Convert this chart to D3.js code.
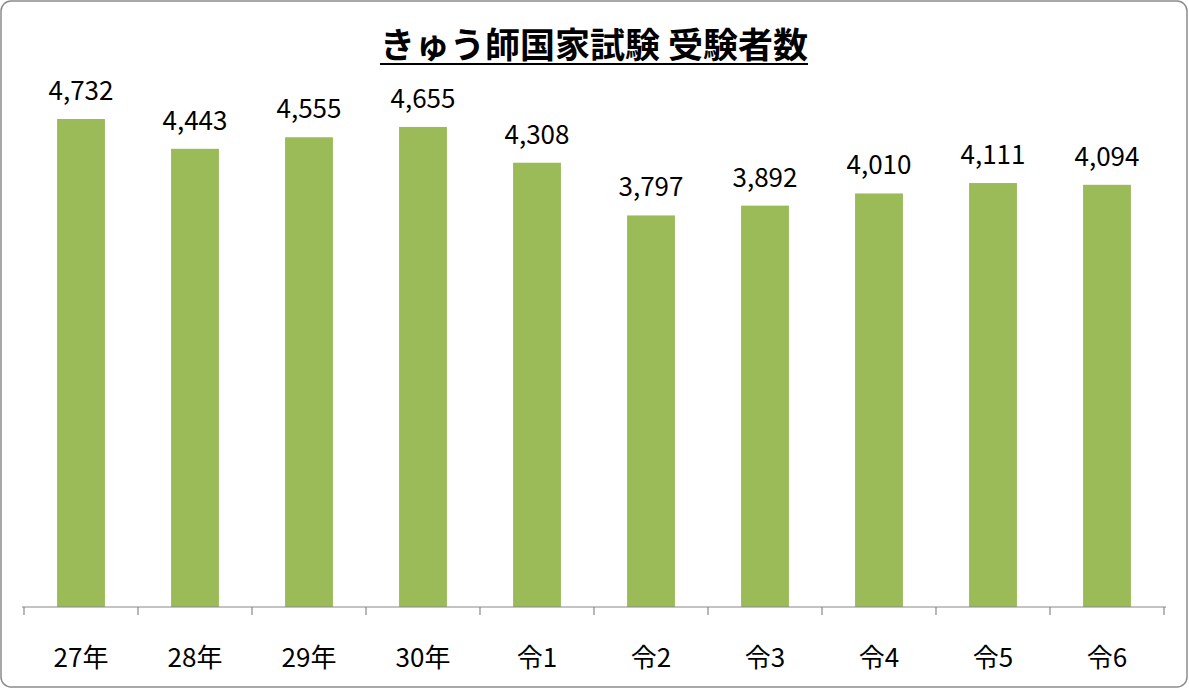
<!DOCTYPE html>
<html><head><meta charset="utf-8">
<script src="https://cdn.jsdelivr.net/npm/d3@7"></script>
<style>body{margin:0;background:#fff}</style>
</head><body>
<svg id="c" width="1189" height="689"></svg>
<script>
const categories = ["27年","28年","29年","30年","令1","令2","令3","令4","令5","令6"];
const values = [4732,4443,4555,4655,4308,3797,3892,4010,4111,4094];
const title = "きゅう師国家試験 受験者数";

const svg = d3.select("#c");
const font = "'Noto Sans CJK JP','Noto Sans',sans-serif";
svg.append("rect").attr("x",1).attr("y",1).attr("width",1186).attr("height",686)
  .attr("rx",10).attr("fill","#fff").attr("stroke","#8c8c8c").attr("stroke-width",1.5);

const x = d3.scaleBand().domain(categories).range([24,1164]).paddingInner(0.58).paddingOuter(0.29);
const y = d3.scaleLinear().domain([0,4732]).range([607,119]);

const t = svg.append("text").attr("x",594).attr("y",58).attr("text-anchor","middle")
  .attr("font-family",font).attr("font-weight","bold").attr("font-size",35).text(title);
const bb = t.node().getBBox();
svg.append("line").attr("x1",bb.x).attr("x2",bb.x+bb.width).attr("y1",64).attr("y2",64)
  .attr("stroke","#000").attr("stroke-width",2);

svg.selectAll(".bar").data(values).join("rect")
  .attr("x",(d,i)=>x(categories[i])).attr("width",x.bandwidth())
  .attr("y",d=>y(d)).attr("height",d=>y(0)-y(d)).attr("fill","#9BBB59");

svg.selectAll(".lbl").data(values).join("text")
  .attr("x",(d,i)=>x(categories[i])+x.bandwidth()/2).attr("y",d=>y(d)-19)
  .attr("text-anchor","middle").attr("font-family",font).attr("font-size",26)
  .text(d=>d3.format(",")(d));

const axis = d3.axisBottom(x).tickSize(0).tickPadding(0);
const g = svg.append("g").attr("transform","translate(0,607)");
g.append("line").attr("x1",22).attr("x2",1166).attr("stroke","#888").attr("stroke-width",1.2);
d3.range(categories.length+1).forEach(i=>{
  const xx = 24 + i*x.step();
  g.append("line").attr("x1",xx).attr("x2",xx).attr("y1",0).attr("y2",8).attr("stroke","#888").attr("stroke-width",1.2);
});
const ag = g.append("g").call(axis);
ag.select(".domain").remove();
ag.selectAll("text").attr("font-family",font).attr("font-size",26).attr("fill","#000")
  .attr("dy",0).attr("y",60);
</script>
</body></html>
